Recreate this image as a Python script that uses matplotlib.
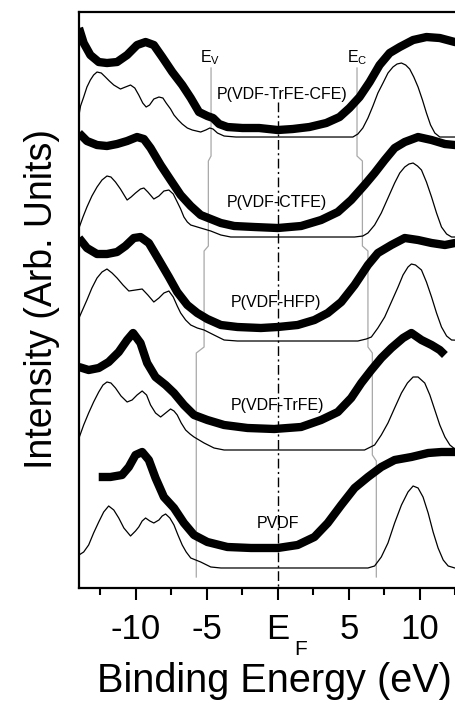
import matplotlib
matplotlib.use("Agg")
import matplotlib.pyplot as plt

plt.rcParams["font.family"] = ["Liberation Sans", "DejaVu Sans"]
plt.rcParams["axes.unicode_minus"] = False

# === Spectra (binding energy in eV, intensity in arb. units, already stacked) ===
# P(VDF-TrFE-CFE)
cfe_exp_x = [-14.0, -13.67, -13.2, -12.61, -12.03, -11.32, -10.61, -9.91, -9.31, -8.73, -8.14, -7.43,
             -6.73, -6.13, -5.55, -4.96, -4.56, -4.13, -3.55, -2.49, -1.31, 0.0, 1.05, 2.23, 3.41,
             4.35, 5.05, 5.76, 6.47, 7.17, 7.88, 8.59, 9.53, 10.47, 11.41, 12.47, 14.0]
cfe_exp_y = [560, 545, 533, 526, 525, 526, 533, 543, 546, 543, 531, 516, 503, 490, 476, 472, 470,
             464, 461, 460, 460, 458, 459, 461, 465, 471, 480, 491, 506, 523, 535, 541, 548, 551,
             550, 546, 543]
cfe_calc_x = [-14.0, -13.89, -13.67, -13.44, -13.2, -12.97, -12.73, -12.43, -12.14, -11.86, -11.55,
              -11.08, -10.73, -10.37, -10.07, -9.79, -9.51, -9.27, -9.03, -8.73, -8.37, -8.09, -7.86,
              -7.55, -7.31, -7.01, -6.73, -6.37, -6.02, -5.43, -5.07, -4.79, -4.56, -4.25, -3.78,
              -2.95, 5.29, 5.64, 5.99, 6.35, 6.7, 7.05, 7.41, 7.76, 8.11, 8.4, 8.71, 9.01, 9.29,
              9.58, 9.88, 10.19, 10.47, 10.76, 11.06, 11.41, 12.47, 14.0]
cfe_calc_y = [473, 482, 491, 501, 508, 513, 516, 515, 511, 507, 503, 499, 501, 503, 500, 493, 485,
              481, 483, 489, 491, 490, 485, 479, 473, 468, 464, 460, 458, 456, 458, 460, 459, 455,
              452, 451, 451, 454, 460, 470, 482, 495, 505, 515, 521, 524, 525, 523, 519, 511, 501,
              488, 475, 463, 455, 451, 451, 451]

# P(VDF-CTFE)
ctfe_exp_x = [-14.0, -13.44, -12.73, -12.03, -11.32, -10.61, -9.91, -9.43, -8.96, -8.25, -7.55,
              -6.84, -6.13, -5.43, -4.72, -4.01, -3.07, -1.66, 0.0, 1.64, 3.05, 4.23, 5.17, 6.11,
              6.82, 7.53, 8.23, 8.94, 9.88, 10.83, 11.77, 12.47, 14.0]
ctfe_exp_y = [455, 447, 443, 442, 444, 447, 451, 449, 440, 423, 408, 393, 382, 373, 369, 365, 362,
              361, 360, 362, 368, 376, 388, 403, 415, 428, 440, 446, 451, 448, 444, 443, 442]
ctfe_calc_x = [-14.0, -13.72, -13.44, -13.09, -12.73, -12.38, -12.03, -11.75, -11.43, -11.08, -10.61,
               -10.33, -10.02, -9.67, -9.43, -9.15, -8.73, -8.37, -8.02, -7.67, -7.36, -7.08, -6.84,
               -6.61, -6.37, -6.13, -5.43, -4.72, -4.01, -3.31, 5.41, 5.99, 6.35, 6.82, 7.29, 7.76,
               8.23, 8.59, 8.94, 9.24, 9.53, 9.84, 10.12, 10.47, 10.83, 11.18, 11.53, 11.89, 12.24,
               14.0]
ctfe_calc_y = [360, 371, 381, 392, 401, 408, 412, 411, 406, 399, 388, 391, 395, 399, 400, 396, 389,
               392, 397, 398, 394, 386, 379, 371, 366, 363, 360, 357, 353, 351, 351, 352, 355, 363,
               375, 390, 405, 415, 421, 424, 425, 422, 418, 406, 391, 375, 361, 354, 351, 351]

# P(VDF-HFP)
hfp_exp_x = [-14.0, -13.44, -12.73, -12.03, -11.32, -10.73, -10.14, -9.67, -9.08, -8.37, -7.67,
             -7.08, -6.37, -5.67, -4.96, -4.01, -2.84, -1.19, 0.0, 1.4, 2.58, 3.52, 4.47, 5.41,
             6.35, 7.05, 8.0, 8.94, 9.88, 10.83, 11.77, 12.47, 14.0]
hfp_exp_y = [350, 340, 334, 334, 336, 342, 350, 351, 345, 328, 311, 296, 283, 275, 269, 263, 261,
             260, 261, 263, 268, 275, 286, 303, 323, 335, 343, 350, 348, 345, 343, 345, 345]
hfp_calc_x = [-14.0, -13.72, -13.44, -13.09, -12.73, -12.38, -12.03, -11.67, -11.32, -10.9, -10.49,
              -10.02, -9.55, -9.15, -8.73, -8.37, -8.02, -7.67, -7.36, -7.08, -6.84, -6.49, -6.13,
              -5.67, -5.19, -4.49, -3.78, -2.84, 5.64, 6.23, 6.59, 7.05, 7.53, 8.0, 8.47, 8.82,
              9.17, 9.41, 9.7, 10.12, 10.47, 10.83, 11.18, 11.53, 11.89, 12.24, 14.0]
hfp_calc_y = [270, 279, 288, 300, 310, 316, 319, 315, 310, 303, 297, 298, 299, 293, 286, 290, 295,
              297, 291, 282, 275, 268, 263, 260, 258, 253, 248, 247, 247, 249, 251, 260, 271, 286,
              301, 313, 321, 324, 323, 318, 306, 291, 275, 261, 252, 248, 247]

# P(VDF-TrFE)
trfe_exp_x = [-14.0, -13.32, -12.61, -11.91, -11.2, -10.61, -10.19, -9.67, -9.2, -8.61, -7.9, -7.31,
              -6.61, -5.9, -4.96, -3.78, -2.13, -0.25, 1.64, 3.05, 4.23, 5.17, 5.88, 6.59, 7.29,
              8.0, 8.82, 9.41, 10.12, 10.83, 11.41, 11.77]
trfe_exp_y = [221, 218, 220, 226, 236, 248, 255, 245, 225, 211, 203, 195, 183, 173, 168, 163, 160,
              159, 161, 168, 176, 190, 205, 218, 230, 240, 250, 255, 248, 243, 238, 233]
trfe_calc_x = [-14.0, -13.67, -13.32, -12.97, -12.61, -12.31, -12.03, -11.75, -11.43, -11.04, -10.61,
               -10.26, -9.91, -9.55, -9.24, -8.96, -8.61, -8.25, -7.9, -7.55, -7.31, -7.08, -6.8,
               -6.49, -6.18, -5.9, -5.19, -4.49, -3.78, 6.11, 6.82, 7.29, 7.76, 8.23, 8.71, 9.13,
               9.53, 9.88, 10.35, 10.71, 11.06, 11.41, 11.77, 12.12, 12.47, 14.0]
trfe_calc_y = [150, 163, 175, 186, 196, 203, 206, 205, 200, 192, 186, 188, 193, 197, 193, 183, 175,
               171, 175, 179, 177, 173, 165, 158, 154, 151, 145, 140, 138, 138, 143, 153, 165, 180,
               195, 205, 211, 211, 205, 193, 178, 163, 151, 143, 139, 138]

# PVDF
pvdf_exp_x = [-12.61, -11.79, -10.97, -10.49, -10.02, -9.55, -9.08, -8.61, -8.02, -7.31, -6.61,
              -5.9, -4.96, -3.55, -1.89, 0.0, 1.4, 2.58, 3.52, 4.47, 5.41, 6.35, 7.29, 8.23, 9.41,
              10.59, 11.53, 12.47, 14.0]
pvdf_exp_y = [111, 111, 113, 121, 133, 136, 128, 110, 91, 80, 65, 53, 46, 41, 40, 40, 43, 51, 65,
              83, 100, 111, 121, 128, 131, 135, 136, 136, 137]
pvdf_calc_x = [-14.0, -13.67, -13.32, -12.97, -12.61, -12.26, -11.91, -11.55, -11.2, -10.84, -10.37,
               -10.02, -9.79, -9.55, -9.31, -9.01, -8.73, -8.37, -8.14, -7.9, -7.6, -7.31, -7.03,
               -6.73, -6.45, -6.13, -5.43, -4.72, -4.01, 6.35, 6.82, 7.29, 7.76, 8.23, 8.71, 9.17,
               9.53, 9.88, 10.23, 10.59, 10.94, 11.29, 11.65, 12.0, 12.47, 14.0]
pvdf_calc_y = [33, 36, 43, 55, 66, 76, 82, 78, 70, 60, 52, 57, 61, 67, 70, 67, 65, 68, 72, 74, 70,
               63, 53, 43, 36, 30, 26, 21, 20, 20, 22, 31, 45, 65, 83, 96, 102, 100, 91, 75, 56, 40,
               28, 22, 20, 20]

spectra = [
    ("P(VDF-TrFE-CFE)", cfe_exp_x, cfe_exp_y, cfe_calc_x, cfe_calc_y, 0.34, 489),
    ("P(VDF-CTFE)", ctfe_exp_x, ctfe_exp_y, ctfe_calc_x, ctfe_calc_y, -0.07, 381),
    ("P(VDF-HFP)", hfp_exp_x, hfp_exp_y, hfp_calc_x, hfp_calc_y, -0.1, 281),
    ("P(VDF-TrFE)", trfe_exp_x, trfe_exp_y, trfe_calc_x, trfe_calc_y, 0.0, 178),
    ("PVDF", pvdf_exp_x, pvdf_exp_y, pvdf_calc_x, pvdf_calc_y, 0.0, 60),
]

# band edges for each spectrum (top to bottom) and the intensity span of each segment
ev_edges = [-4.70, -4.89, -5.19, -5.74, -5.74]
ec_edges = [5.58, 5.96, 6.35, 6.66, 6.94]
seg_top = [520, 427, 337, 235, 127]
seg_bot = [432, 342, 241, 133, 11]

x_ticks = [-10, -5, 0, 5, 10]
x_ticklabels = ["-10", "-5", "E", "5", "10"]
x_minor = [-12.5, -7.5, -2.5, 2.5, 7.5, 12.5]

fig = plt.figure(figsize=(4.55, 7.03), dpi=100)
ax = fig.add_axes([0.1736, 0.1636, 0.8738, 0.8193])

# E_V / E_C guide lines (stepped)
for edges in (ev_edges, ec_edges):
    xs, ys = [], []
    for e, t, b in zip(edges, seg_top, seg_bot):
        xs += [e, e]
        ys += [t, b]
    ax.plot(xs, ys, color="#a8a8a8", lw=0.9, zorder=1)

ax.plot([0, 0], [486, 0], color="black", lw=1.0, linestyle=(0, (7, 2.5, 1.5, 2.5)), zorder=2)

for name, ex, ey, cx, cy, lx, ly in spectra:
    ax.plot(cx, cy, color="black", lw=0.9, zorder=3)
    ax.plot(ex, ey, color="black", lw=6, solid_joinstyle="round", solid_capstyle="butt", zorder=4)
    ax.text(lx, ly, name, fontsize=11.5, ha="center", va="baseline", zorder=5)

ax.text(-4.77, 526, "E$_\\mathregular{V}$", fontsize=11.5, ha="center", va="baseline")
ax.text(5.6, 526, "E$_\\mathregular{C}$", fontsize=11.5, ha="center", va="baseline")

ax.set_xlim(-14, 14)
ax.set_ylim(0, 576)
ax.set_xticks(x_ticks)
ax.set_xticklabels(x_ticklabels)
ax.set_xticks(x_minor, minor=True)
ax.set_yticks([])
ax.tick_params(axis="x", which="major", direction="out", length=8.6, width=1.5, labelsize=25, pad=9.4)
ax.tick_params(axis="x", which="minor", direction="out", length=5, width=1.5)
for sp in ax.spines.values():
    sp.set_linewidth(1.6)

# subscript F of the E_F tick label
ax.annotate("F", xy=(0, 0), xycoords=("data", "axes fraction"), xytext=(11.9, -48.2),
            textcoords="offset points", fontsize=15, ha="left", va="baseline")

fig.text(274 / 455, 11 / 703, "Binding Energy (eV)", fontsize=28.5, ha="center", va="baseline")
fig.text(42 / 455, 0.574, "Intensity (Arb. Units)", fontsize=27, rotation=90, ha="center", va="center")

plt.savefig("out.png", dpi=100)
